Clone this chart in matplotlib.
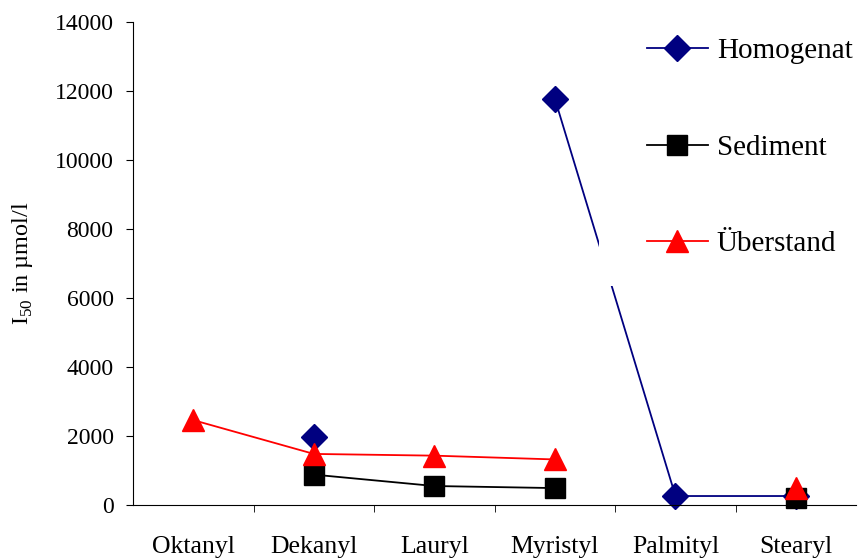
import matplotlib.pyplot as plt
from matplotlib.patches import Rectangle
import numpy as np

plt.rcParams['font.family'] = ['Liberation Serif', 'DejaVu Serif']
plt.rcParams['mathtext.fontset'] = 'custom'
plt.rcParams['mathtext.rm'] = 'Liberation Serif'

categories = ['Oktanyl', 'Dekanyl', 'Lauryl', 'Myristyl', 'Palmityl', 'Stearyl']
homogenat = [np.nan, 1960, np.nan, 11770, 260, 260]
sediment = [np.nan, 880, 550, 490, np.nan, 190]
ueberstand = [2460, 1480, 1430, 1320, np.nan, 490]

fig = plt.figure(figsize=(8.61, 5.58), dpi=100)
ax = fig.add_axes([0.1545, 0.095, 0.84, 0.8656])

x = np.arange(len(categories))
ax.plot(x, homogenat, '-D', color='#000080', lw=1.3, ms=13, label='Homogenat', clip_on=False)
ax.plot(x, sediment, '-s', color='black', lw=1.3, ms=15, label='Sediment', clip_on=False)
ax.plot(x, ueberstand, '-^', color='red', lw=1.3, ms=16, label='Überstand', clip_on=False)

ax.set_xlim(-0.5, 5.5)
ax.set_ylim(0, 14000)
ax.set_yticks(range(0, 14001, 2000))
ax.set_xticks(x)
ax.set_xticklabels(categories)
ax.set_xticks(np.arange(0.5, 5, 1), minor=True)
ax.tick_params(axis='x', which='major', length=0, pad=22, labelsize=18.5)
ax.tick_params(axis='x', which='minor', length=5, direction='out')
ax.tick_params(axis='y', length=5, direction='out', pad=9, labelsize=17)
for s in ['top', 'right']:
    ax.spines[s].set_visible(False)
ax.spines['bottom'].set_bounds(-0.5, 5.5)

ax.set_ylabel('I$_{50}$ in µmol/l', fontsize=17.5)
ax.yaxis.set_label_coords(-0.135, 0.5)

# white box behind the legend hides part of the line
ax.add_patch(Rectangle((0.696, 0.488), 0.304, 0.5, transform=fig.transFigure,
                       facecolor='white', edgecolor='none', zorder=4, clip_on=False))
leg = ax.legend(loc='upper left', bbox_to_anchor=(0.7515, 0.932), bbox_transform=fig.transFigure,
                frameon=False, fontsize=21, handlelength=2.08, handletextpad=0.31,
                labelspacing=2.4, borderpad=0, borderaxespad=0)
leg.set_zorder(5)

fig.savefig('out.png', dpi=100)
